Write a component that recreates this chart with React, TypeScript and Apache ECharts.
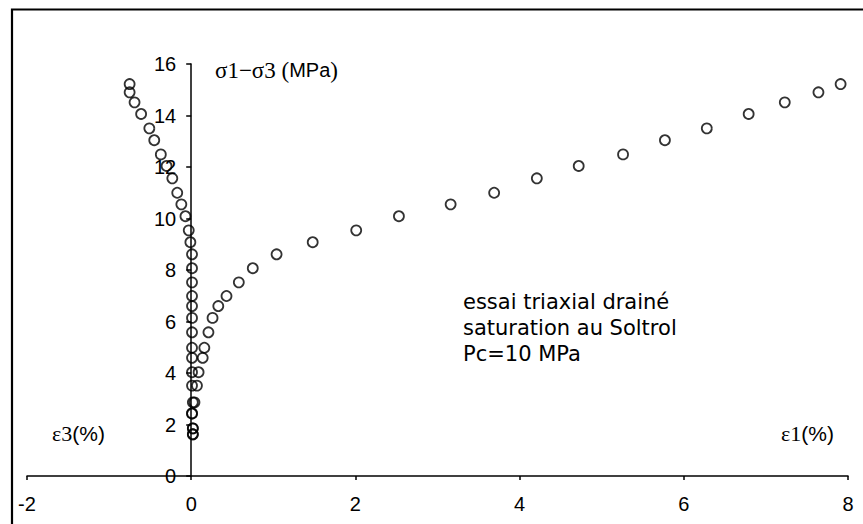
import React, { useEffect, useRef } from "react";
import * as echarts from "echarts";

// Deviatoric stress σ1−σ3 (MPa) at each reading
const deviatoricStress = [
  1.62, 1.85, 2.43, 2.86, 3.51, 4.03, 4.59, 4.98, 5.58, 6.14, 6.6, 6.99, 7.52,
  8.07, 8.61, 9.08, 9.54, 10.09, 10.55, 11.0, 11.56, 12.04, 12.49, 13.04, 13.5,
  14.06, 14.51, 14.9, 15.22,
];

// Axial strain ε1 (%)
const axialStrain = [
  0.02, 0.02, 0.01, 0.04, 0.07, 0.09, 0.14, 0.16, 0.21, 0.26, 0.33, 0.43, 0.58,
  0.75, 1.04, 1.48, 2.01, 2.53, 3.16, 3.69, 4.21, 4.72, 5.26, 5.77, 6.28, 6.79,
  7.23, 7.64, 7.91,
];

// Lateral strain ε3 (%)
const lateralStrain = [
  0.02, 0.02, 0.01, 0.02, 0.01, 0.01, 0.01, 0.01, 0.01, 0.01, 0.01, 0.01, 0.01,
  0.01, 0.01, -0.01, -0.03, -0.07, -0.12, -0.17, -0.23, -0.3, -0.37, -0.45,
  -0.51, -0.61, -0.69, -0.75, -0.75,
];

const strainRange = [-2, 8];
const stressRange = [0, 16];
const tickStep = 2;

const noteLines = ["essai triaxial drainé", "saturation au Soltrol", "Pc=10 MPa"];

const SANS = "'Liberation Sans', Arial, sans-serif";
const SERIF = "'Liberation Serif', 'Times New Roman', serif";

const WIDTH = 863;
const HEIGHT = 524;
const GRID = { left: 27, right: 15, top: 64, bottom: 48 };

// The stress axis sits on ε = 0, labels included
const plotWidth = WIDTH - GRID.left - GRID.right;
const stressAxisOffset =
  -((0 - strainRange[0]) / (strainRange[1] - strainRange[0])) * plotWidth;

const marker = {
  symbol: "circle",
  symbolSize: 10,
  itemStyle: {
    color: "rgba(0,0,0,0)",
    borderColor: "#000",
    borderWidth: 1.8,
  },
};

export default function App() {
  const ref = useRef<HTMLDivElement>(null);

  useEffect(() => {
    const chart = echarts.init(ref.current!, null, { renderer: "svg" });
    chart.setOption({
      animation: false,
      backgroundColor: "#fff",
      grid: { ...GRID, outerBoundsMode: "none" },
      xAxis: {
        type: "value",
        min: strainRange[0],
        max: strainRange[1],
        interval: tickStep,
        axisLine: { onZero: true, lineStyle: { color: "#000", width: 1.5 } },
        axisTick: { show: true, length: 4, lineStyle: { color: "#000", width: 1.5 } },
        axisLabel: { color: "#000", fontFamily: SANS, fontSize: 20, margin: 18 },
        splitLine: { show: false },
      },
      yAxis: {
        type: "value",
        min: stressRange[0],
        max: stressRange[1],
        interval: tickStep,
        position: "left",
        offset: stressAxisOffset,
        axisLine: { show: true, onZero: false, lineStyle: { color: "#000", width: 1.5 } },
        axisTick: { show: true, length: 5, lineStyle: { color: "#000", width: 1.5 } },
        axisLabel: { color: "#000", fontFamily: SANS, fontSize: 20, margin: 15 },
        splitLine: { show: false },
      },
      series: [
        {
          name: "ε3",
          type: "scatter",
          ...marker,
          data: lateralStrain.map((e, i) => [e, deviatoricStress[i]]),
        },
        {
          name: "ε1",
          type: "scatter",
          ...marker,
          data: axialStrain.map((e, i) => [e, deviatoricStress[i]]),
        },
      ],
      graphic: [
        {
          type: "rect",
          shape: { x: 12, y: 9.5, width: 900, height: 600 },
          style: { fill: "none", stroke: "#000", lineWidth: 2.2 },
        },
        {
          type: "text",
          x: 215,
          y: 70,
          style: {
            text: "{s|σ1−σ3 (}{m|MPa}{s|)}",
            verticalAlign: "middle",
            rich: {
              s: { fontFamily: SERIF, fontSize: 23, fill: "#000" },
              m: { fontFamily: SANS, fontSize: 20, fill: "#000" },
            },
          },
        },
        {
          type: "text",
          x: 52,
          y: 433,
          style: {
            text: "{s|ε3}{m|(%)}",
            verticalAlign: "middle",
            rich: {
              s: { fontFamily: SERIF, fontSize: 22, fill: "#000" },
              m: { fontFamily: SANS, fontSize: 21, fill: "#000" },
            },
          },
        },
        {
          type: "text",
          x: 781,
          y: 433,
          style: {
            text: "{s|ε1}{m|(%)}",
            verticalAlign: "middle",
            rich: {
              s: { fontFamily: SERIF, fontSize: 22, fill: "#000" },
              m: { fontFamily: SANS, fontSize: 21, fill: "#000" },
            },
          },
        },
        {
          type: "text",
          x: 463,
          y: 289,
          style: {
            text: noteLines.join("\n"),
            fontFamily: "'DejaVu Sans', sans-serif",
            fontSize: 21,
            lineHeight: 26,
            fill: "#000",
            verticalAlign: "top",
          },
        },
      ],
    });
    return () => chart.dispose();
  }, []);

  return (
    <div
      ref={ref}
      style={{
        position: "absolute",
        left: 0,
        top: 0,
        width: WIDTH,
        height: HEIGHT,
        background: "#fff",
      }}
    />
  );
}
